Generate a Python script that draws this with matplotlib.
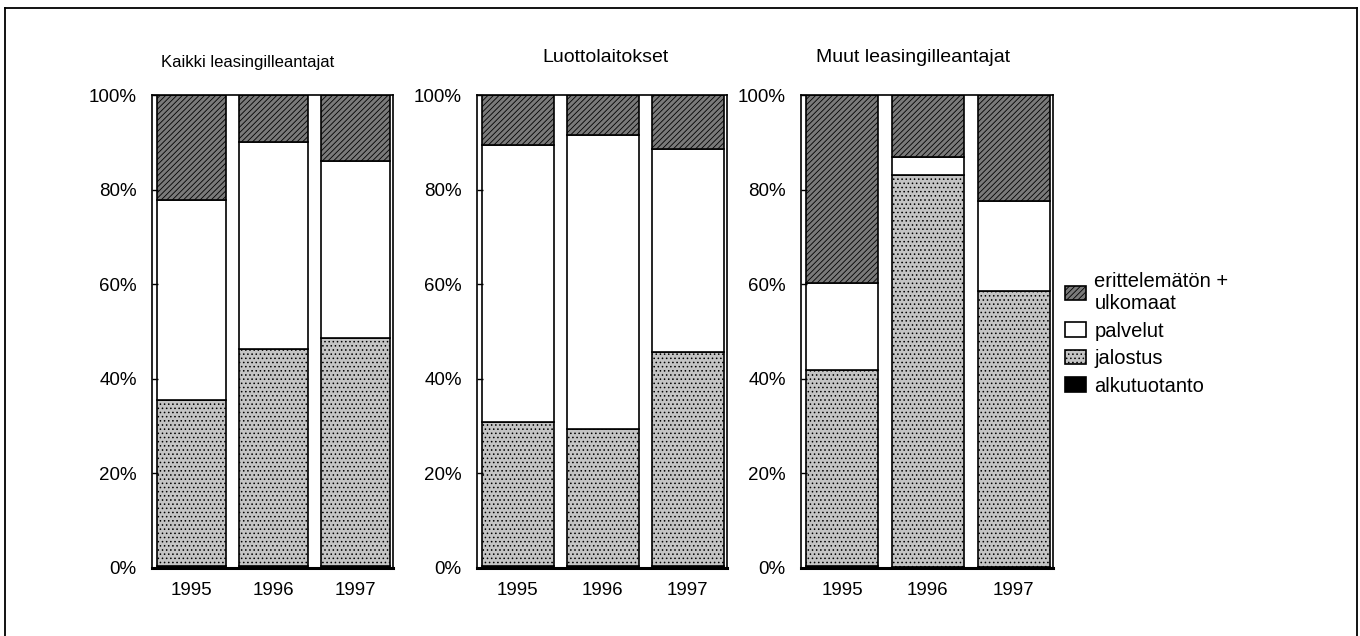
import numpy as np
import matplotlib
matplotlib.use("Agg")
import matplotlib.pyplot as plt
from matplotlib.lines import Line2D
from matplotlib.ticker import PercentFormatter

plt.rcParams['font.family'] = ['Liberation Sans', 'DejaVu Sans']
plt.rcParams['hatch.linewidth'] = 0.6

years = ['1995', '1996', '1997']
titles = ['Kaikki leasingilleantajat', 'Luottolaitokset', 'Muut leasingilleantajat']

# shares in percent, one list per panel
alkutuotanto = [[0.5, 0.4, 0.5], [0.4, 0.4, 0.5], [0.5, 0.2, 0.3]]
jalostus = [[35.1, 45.8, 48.2], [30.5, 29.0, 45.1], [41.4, 82.9, 58.2]]
palvelut = [[42.2, 43.8, 37.3], [58.5, 62.1, 43.0], [18.3, 3.8, 19.0]]
erittelematon = [[22.2, 10.0, 14.0], [10.6, 8.5, 11.4], [39.8, 13.1, 22.5]]

series_labels = ['alkutuotanto', 'jalostus', 'palvelut', 'erittelemätön +\nulkomaat']
series_styles = [
    dict(facecolor='black', hatch=None),
    dict(facecolor='#c4c4c4', hatch='....'),
    dict(facecolor='white', hatch=None),
    dict(facecolor='#7a7a7a', hatch='//////'),
]

fig = plt.figure(figsize=(13.6, 6.36), dpi=100)

# axes boxes in pixels: left, right
ax_px = [(152, 393), (477, 727), (801, 1053)]
top_px, bottom_px = 95, 568
title_pos = [(248, 63, 12), (606, 57, 14), (913, 58, 14)]

W, H = 1360, 636
handles = None
for i in range(3):
    l, r = ax_px[i]
    ax = fig.add_axes([l / W, 1 - bottom_px / H, (r - l) / W, (bottom_px - top_px) / H])
    x = np.arange(len(years))
    data = [alkutuotanto[i], jalostus[i], palvelut[i], erittelematon[i]]
    totals = np.sum(data, axis=0)
    bottom = np.zeros(len(years))
    bars = []
    for vals, st in zip(data, series_styles):
        v = np.array(vals) / totals * 100
        b = ax.bar(x, v, width=0.84, bottom=bottom, facecolor=st['facecolor'],
                   hatch=st['hatch'], edgecolor='black', linewidth=1.2)
        bars.append(b)
        bottom += v
    if handles is None:
        handles = bars
    ax.set_xlim(-0.48, 2.46)
    ax.set_ylim(0, 100)
    ax.set_yticks(np.arange(0, 101, 20))
    ax.yaxis.set_major_formatter(PercentFormatter(decimals=0))
    ax.set_xticks(x)
    ax.set_xticklabels(years)
    ax.tick_params(axis='y', direction='in', length=4, width=1, pad=11, labelsize=13.5)
    ax.tick_params(axis='x', length=0, pad=10, labelsize=13.5)
    for s in ['top', 'left', 'right']:
        ax.spines[s].set_linewidth(1.2)
    ax.spines['bottom'].set_linewidth(2.2)
    tx, ty, fs = title_pos[i]
    fig.text(tx / W, 1 - ty / H, titles[i], ha='center', va='center', fontsize=fs)

leg = fig.legend(handles[::-1], series_labels[::-1], loc='upper left',
                 bbox_to_anchor=(1047 / W, 1 - 254 / H), frameon=False,
                 fontsize=14.5, handlelength=1.05, handleheight=0.7,
                 handletextpad=0.4, labelspacing=0.42)

# outer frame of the figure
for xs, ys in [((5, 5), (8, 640)), ((5, 1357), (8, 8)), ((1357, 1357), (8, 640))]:
    fig.add_artist(Line2D([v / W for v in xs], [1 - v / H for v in ys],
                          color='black', linewidth=1.3))

fig.savefig('out.png', dpi=100)
